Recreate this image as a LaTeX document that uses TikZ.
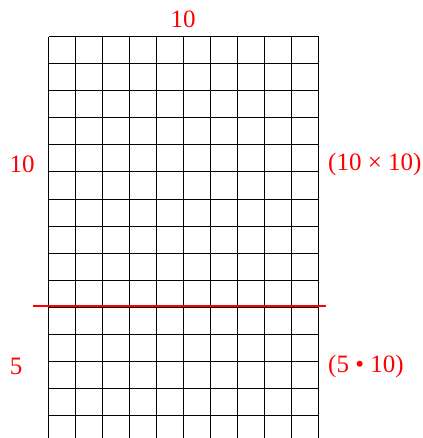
\documentclass[tikz,border=0pt]{standalone}
\usepackage{fontspec}
\setmainfont{Liberation Serif}
\begin{document}
\begin{tikzpicture}[x=1pt,y=-1pt,
  lbl/.style={text=red,font=\fontsize{25}{28}\selectfont,inner sep=0pt},
  gridline/.style={black,line width=1pt}]
\useasboundingbox (0,0) rectangle (422,438);
\begin{scope}
\clip (0,0) rectangle (422,438);
\foreach \i in {0,...,15} \draw[gridline] (48.5,37+27*\i) -- (318.5,37+27*\i);
\foreach \j in {0,...,10} \draw[gridline] (48.5+27*\j,37) -- (48.5+27*\j,442);
\end{scope}
\coordinate (la) at (33,306);
\coordinate (lb) at (326,306);
\draw[red,line width=2.5pt] (la) -- (lb);
\node[lbl] (top) at (183,19) {10};
\node[lbl] (left10) at (22,164) {10};
\node[lbl,anchor=west] (right10) at (328,164) {(10 × 10)};
\node[lbl] (left5) at (16,366) {5};
\node[lbl,anchor=west] (right5) at (328,366) {(5 • 10)};
\end{tikzpicture}
\end{document}
